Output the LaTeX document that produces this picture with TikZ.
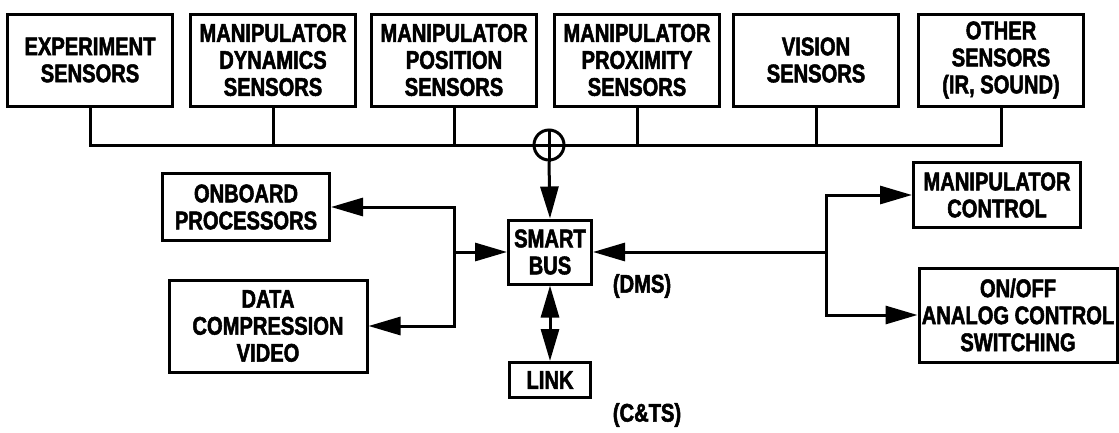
\documentclass[tikz,border=0pt]{standalone}
\usepackage{fontspec}
\newfontfamily\blockfont[FakeStretch=0.79,FakeBold=2]{Liberation Sans}
\usetikzlibrary{arrows.meta}

\begin{document}
\begin{tikzpicture}[x=1pt,y=-1pt,line width=3pt,
    >={Triangle[length=32pt,width=18pt]},
    txt/.style={font=\blockfont\bfseries\fontsize{25.5}{27}\selectfont},
    blk/.style={txt,draw,rectangle,align=center,inner sep=0pt},
    sensor/.style={blk,minimum width=165pt,minimum height=92pt}]
  \useasboundingbox (0,0) rectangle (1119,432);

  % sensors on the top row
  \foreach \name/\x/\lines in {exper/90/{EXPERIMENT\\SENSORS},
      dyn/273/{MANIPULATOR\\DYNAMICS\\SENSORS},
      pos/454/{MANIPULATOR\\POSITION\\SENSORS},
      prox/637/{MANIPULATOR\\PROXIMITY\\SENSORS},
      vis/816/{VISION\\SENSORS},
      other/1001/{OTHER\\SENSORS\\(IR, SOUND)}}
    \node[sensor] (\name) at (\x,60) {\lines};

  % summing bus
  \node[draw,circle,minimum size=30pt,inner sep=0pt] (sum) at (549,145) {};
  \draw (exper.south) |- (sum.west) -- (sum.east) -| (other.south);
  \foreach \name in {dyn,pos,prox,vis}
    \draw (\name.south) -- (\name.south |- sum.center);
  \draw (sum.north) -- (sum.south);

  % smart bus and its neighbours
  \node[blk,minimum width=83pt,minimum height=64pt] (smart) at (550,252) {SMART\\BUS};
  \node[blk,minimum width=81pt,minimum height=35pt] (link) at (550,380) {LINK};
  \node[txt] (dms) at (642,286) {(DMS)};
  \node[txt] (cts) at (647,415) {(C\&TS)};

  \node[blk,minimum width=167pt,minimum height=67pt] (onboard) at (246,207) {ONBOARD\\PROCESSORS};
  \node[blk,minimum width=198pt,minimum height=92pt] (datacomp) at (268,326) {DATA\\COMPRESSION\\VIDEO};
  \node[blk,minimum width=167pt,minimum height=65pt] (manip) at (997,195) {MANIPULATOR\\CONTROL};
  \node[blk,minimum width=198pt,minimum height=94pt] (onoff) at (1018,315) {ON/OFF\\ANALOG CONTROL\\SWITCHING};

  \coordinate (lsplit) at (454,252);
  \coordinate (rsplit) at (826,252);

  \draw[->] (sum.south) -- (smart.north);
  \draw[<->] (smart.south) -- (link.north);
  \draw[->] (lsplit) -- (smart.west);
  \draw[->] (lsplit) |- (onboard.east);
  \draw[->] (lsplit) |- (datacomp.east);
  \draw[->] (rsplit) -- (smart.east);
  \draw[->] (rsplit) |- (manip.west);
  \draw[->] (rsplit) |- (onoff.west);
\end{tikzpicture}
\end{document}
